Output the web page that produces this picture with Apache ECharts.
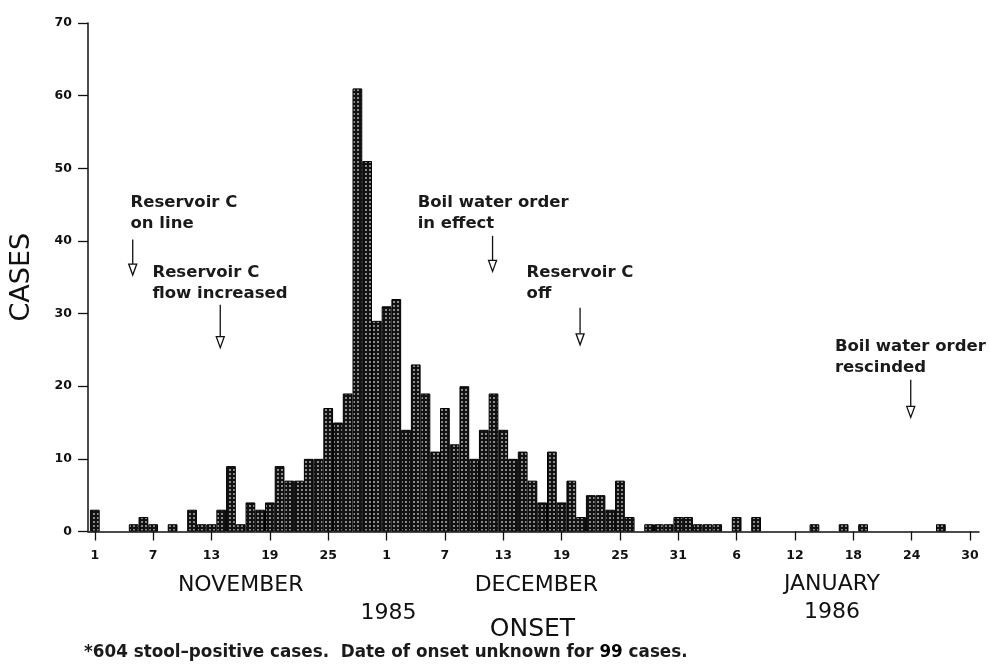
<!DOCTYPE html>
<html>
<head>
<meta charset="utf-8">
<script src="https://cdn.jsdelivr.net/npm/echarts@6/dist/echarts.min.js"></script>
<style>
html,body{margin:0;padding:0;background:#fff;}
#c{width:990px;height:670px;}
</style>
</head>
<body>
<div id="c"></div>
<script>
// Day index 0 = Nov 1, 1985 ... 90 = Jan 30, 1986
const cases = [
  3,0,0,0,1,2,1,0,1,0,          // Nov 1-10
  3,1,1,3,9,1,4,3,4,9,          // Nov 11-20
  7,7,10,10,17,15,19,61,51,29,  // Nov 21-30
  31,32,14,23,19,11,17,12,20,10,// Dec 1-10
  14,19,14,10,11,7,4,11,4,7,    // Dec 11-20
  2,5,5,3,7,2,0,1,1,1,          // Dec 21-30
  2,                            // Dec 31
  2,1,1,1,0,2,0,2,0,0,          // Jan 1-10
  0,0,0,1,0,0,1,0,1,0,          // Jan 11-20
  0,0,0,0,0,0,1,0,0,0           // Jan 21-30
];
const tickDays = [0,6,12,18,24,30,36,42,48,54,60,66,72,78,84,90];
const tickLabels = ['1','7','13','19','25','1','7','13','19','25','31','6','12','18','24','30'];

const annotations = [
  {lines:['Reservoir C','on line'], textDay:3.67, textVal:45.2, arrowDay:3.9, top:40.2, bottom:35.3},
  {lines:['Reservoir C','flow increased'], textDay:5.93, textVal:35.6, arrowDay:12.9, top:31.2, bottom:25.3},
  {lines:['Boil water order','in effect'], textDay:33.2, textVal:45.2, arrowDay:40.9, top:40.7, bottom:35.8},
  {lines:['Reservoir C','off'], textDay:44.4, textVal:35.6, arrowDay:49.9, top:30.8, bottom:25.7},
  {lines:['Boil water order','rescinded'], textDay:76.1, textVal:25.3, arrowDay:83.9, top:20.9, bottom:15.7}
];
const axisTexts = [
  {text:'NOVEMBER', day:15, y:585, size:22},
  {text:'DECEMBER', day:45.4, y:585, size:22},
  {text:'JANUARY', day:75.8, y:584, size:22},
  {text:'1985', day:30.2, y:613, size:22},
  {text:'1986', day:75.8, y:612, size:22},
  {text:'ONSET', day:45, y:629, size:25}
];

const FONT = 'DejaVu Sans';

// dotted fill pattern
const pat = document.createElement('canvas');
pat.width = 4; pat.height = 4;
const pc = pat.getContext('2d');
pc.fillStyle = '#121212'; pc.fillRect(0,0,4,4);
pc.fillStyle = '#b5b5b5'; pc.beginPath(); pc.arc(2,2,1,0,Math.PI*2); pc.fill();

const barData = [];
cases.forEach((v,i)=>{ if (v>0) barData.push([i,v]); });

const chart = echarts.init(document.getElementById('c'), null, {renderer:'canvas'});
chart.setOption({
  animation:false,
  backgroundColor:'#fff',
  grid:{left:86.5, right:11, top:23, bottom:138.5, containLabel:false},
  xAxis:{
    type:'value', min:-0.7, max:90.92,
    axisLine:{show:true, onZero:false, lineStyle:{color:'#111', width:1.5}},
    axisTick:{show:true, length:9, customValues:tickDays, lineStyle:{color:'#111', width:1.3}},
    axisLabel:{customValues:tickDays, margin:18, color:'#111', fontFamily:FONT, fontWeight:'bold', fontSize:12.5,
      formatter:function(v){ return tickLabels[tickDays.indexOf(Math.round(v))]; }},
    splitLine:{show:false}
  },
  yAxis:{
    type:'value', min:0, max:70, interval:10,
    axisLine:{show:true, onZero:false, lineStyle:{color:'#111', width:1.5}},
    axisTick:{show:true, length:10, lineStyle:{color:'#111', width:1.3}},
    axisLabel:{margin:16, color:'#111', fontFamily:FONT, fontWeight:'bold', fontSize:12.5},
    splitLine:{show:false},
    name:'CASES', nameLocation:'middle', nameGap:53, nameRotate:90,
    nameTextStyle:{fontFamily:FONT, fontSize:27, color:'#111'}
  },
  series:[{
    type:'bar', data:barData, barWidth:9.74,
    itemStyle:{color:{image:pat, repeat:'repeat'}, borderColor:'#000', borderWidth:1}
  }]
});

const g = [];
annotations.forEach(a=>{
  const tp = chart.convertToPixel({gridIndex:0},[a.textDay,a.textVal]);
  const top = chart.convertToPixel({gridIndex:0},[a.arrowDay,a.top]);
  const bot = chart.convertToPixel({gridIndex:0},[a.arrowDay,a.bottom]);
  g.push({type:'text', x:tp[0], y:tp[1]-11, style:{text:a.lines.join('\n'), font:'bold 16.5px '+FONT, fill:'#1a1a1a', lineHeight:21, textVerticalAlign:'top'}});
  const hx = top[0], headTop = bot[1]-11;
  g.push({type:'line', shape:{x1:hx, y1:top[1], x2:hx, y2:headTop}, style:{stroke:'#111', lineWidth:1.3}});
  g.push({type:'polygon', shape:{points:[[hx-4,headTop],[hx+4,headTop],[hx,bot[1]]]}, style:{fill:'#fff', stroke:'#111', lineWidth:1.3}});
});
axisTexts.forEach(t=>{
  const p = chart.convertToPixel({gridIndex:0},[t.day,0]);
  g.push({type:'text', x:p[0], y:t.y, style:{text:t.text, font:t.size+'px '+FONT, fill:'#111', align:'center', verticalAlign:'middle'}});
});
g.push({type:'text', x:84, y:653, style:{
  text:'{n|*604 stool\u2013positive cases.  Date of onset unknown for }{b|99}{n| cases.}',
  rich:{n:{font:'bold 16.8px '+FONT, fill:'#1a1a1a'}, b:{font:'900 16.8px '+FONT, fill:'#000'}},
  verticalAlign:'middle'}});
chart.setOption({graphic:g});
</script>
</body>
</html>
